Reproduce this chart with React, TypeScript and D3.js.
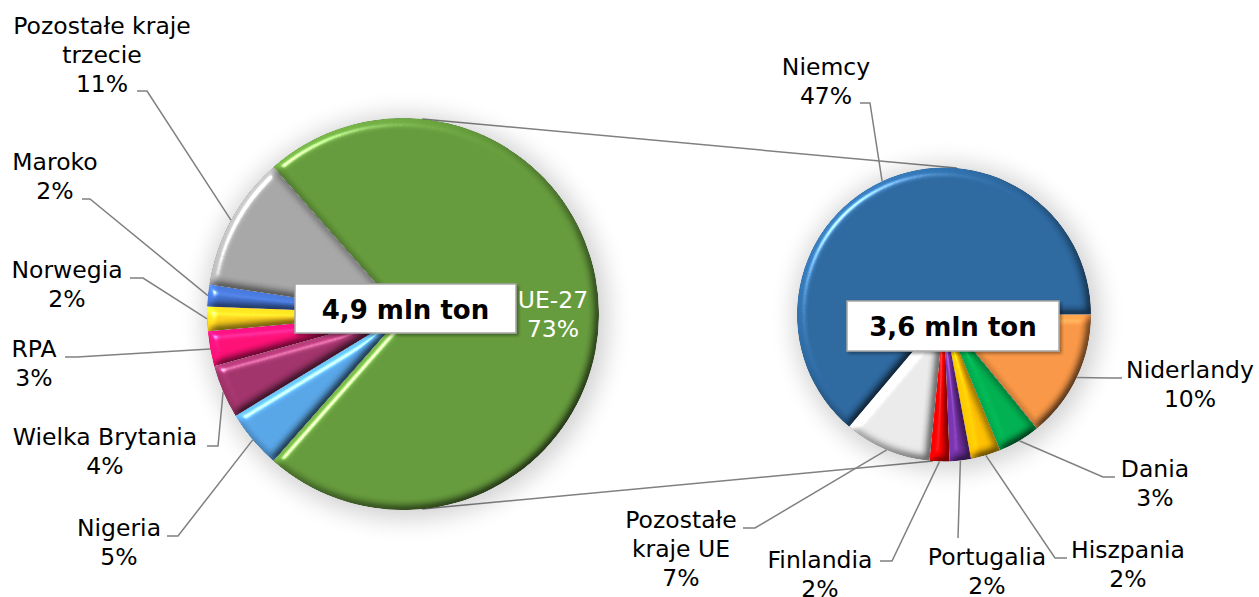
import React from "react";
import * as d3 from "d3";

// ---- data ----
const primaryCategories = ["UE-27", "Nigeria", "Wielka Brytania", "RPA", "Norwegia", "Maroko", "Pozostałe kraje\ntrzecie"];
const primaryValues = [73.0, 4.8, 4.4, 2.9, 2.0, 1.8, 11.1];
const primaryColors = ["#659a3c", "#58a5e6", "#a0336a", "#ff1076", "#ffd21f", "#4574d2", "#a6a6a6"];

const secondaryCategories = ["Niderlandy", "Dania", "Hiszpania", "Portugalia", "Finlandia", "Pozostałe\nkraje UE", "Niemcy"];
const secondaryValues = [10.3, 3.4, 2.4, 1.7, 1.6, 7.0, 46.6];
const secondaryColors = ["#f79646", "#00b050", "#ffc000", "#7030a0", "#ff0000", "#e9e9e9", "#2d689f"];

const primaryTotal = "4,9 mln ton";
const secondaryTotal = "3,6 mln ton";

// ---- layout ----
const W = 1259, H = 597;
const P = { cx: 403, cy: 314, r: 196 };
const S = { cx: 944, cy: 314.5, r: 147 };
const FONT = "'DejaVu Sans', Verdana, sans-serif";
const FS = 23.5;

// label layout: center x, first baseline, leader end (near label), elbow
type LabelPos = { x: number; y: number; end?: [number, number]; elbow?: [number, number] };
const primaryLabelPos: LabelPos[] = [
  { x: 553, y: 308 },
  { x: 119, y: 536, end: [167, 536], elbow: [178, 536] },
  { x: 105, y: 445, end: [207, 446], elbow: [218, 446] },
  { x: 34, y: 357, end: [65, 357], elbow: [77, 357] },
  { x: 67, y: 278, end: [130, 278], elbow: [143, 278] },
  { x: 55, y: 170, end: [82, 199], elbow: [90, 199] },
  { x: 102, y: 34, end: [137, 91], elbow: [147, 91] },
];
const secondaryLabelPos: LabelPos[] = [
  { x: 1190, y: 378, end: [1122, 378], elbow: [1110, 378] },
  { x: 1155, y: 477, end: [1115, 477], elbow: [1103, 477] },
  { x: 1128, y: 558, end: [1067, 558], elbow: [1055, 558] },
  { x: 987, y: 565, end: [958, 538], elbow: [958, 538] },
  { x: 820, y: 568, end: [880, 561], elbow: [892, 561] },
  { x: 681, y: 528, end: [743, 528], elbow: [755, 528] },
  { x: 826, y: 75, end: [860, 103], elbow: [870, 103] },
];

const LH = 29;
const deg = Math.PI / 180;

function polar(c: { cx: number; cy: number }, r: number, a: number): [number, number] {
  return [c.cx + r * Math.sin(a), c.cy - r * Math.cos(a)];
}

export default function App() {
  const pTotal = d3.sum(primaryValues);
  const pStart = Math.PI / 2 - (primaryValues[0] / pTotal) * Math.PI;
  const pie1 = d3.pie<number>().sort(null).startAngle(pStart).endAngle(pStart + 2 * Math.PI)(primaryValues);
  const pie2 = d3.pie<number>().sort(null).startAngle(Math.PI / 2).endAngle(Math.PI / 2 + 2 * Math.PI)(secondaryValues);
  const arc1 = d3.arc<d3.PieArcDatum<number>>().innerRadius(0).outerRadius(P.r);
  const arc2 = d3.arc<d3.PieArcDatum<number>>().innerRadius(0).outerRadius(S.r);
  const pct = (v: number) => `${Math.round(v)}%`;

  const topA = polar(P, P.r, 5.6 * deg), topB = polar(S, S.r, 5 * deg);
  const botA = polar(P, P.r, 174.4 * deg), botB = polar(S, S.r, 184.3 * deg);

  const leader = (c: typeof P, a: number, lp: LabelPos) => {
    const pt = polar(c, c.r, a);
    const pts = [pt, lp.elbow!, lp.end!];
    return d3.line()(pts as [number, number][]) || "";
  };

  const renderLabel = (text: string, lp: LabelPos, color: string, key: string) => {
    const lines = text.split("\n");
    return (
      <text key={key} x={lp.x} y={lp.y} textAnchor="middle" fontFamily={FONT} fontSize={FS} fill={color}>
        {lines.map((l, i) => (
          <tspan key={i} x={lp.x} y={lp.y + i * LH}>{l}</tspan>
        ))}
      </text>
    );
  };

  return (
    <svg width={W} height={H} style={{ position: "fixed", left: 0, top: 0, background: "#fff" }}>
      <defs>
        <filter id="shadow" x="-30%" y="-30%" width="160%" height="160%">
          <feGaussianBlur stdDeviation="12" />
        </filter>
        <filter id="bevel" x="-10%" y="-10%" width="120%" height="120%" colorInterpolationFilters="sRGB">
          <feGaussianBlur in="SourceAlpha" stdDeviation="4.5" result="blur" />
          <feDiffuseLighting in="blur" surfaceScale="4" diffuseConstant="1" lightingColor="#ffffff" result="diff">
            <feDistantLight azimuth="225" elevation="55" />
          </feDiffuseLighting>
          <feComposite in="SourceGraphic" in2="diff" operator="arithmetic" k1="1.2208" k2="0" k3="0" k4="0" result="lit" />
          <feSpecularLighting in="blur" surfaceScale="4" specularConstant="1" specularExponent="90" lightingColor="#ffffff" result="spec">
            <feDistantLight azimuth="225" elevation="55" />
          </feSpecularLighting>
          <feComposite in="spec" in2="SourceAlpha" operator="in" result="specIn" />
          <feComposite in="lit" in2="specIn" operator="arithmetic" k1="0" k2="1" k3="0.6" k4="0" result="all" />
          <feComposite in="all" in2="SourceAlpha" operator="in" />
        </filter>
        <filter id="boxShadow" x="-10%" y="-20%" width="120%" height="150%">
          <feDropShadow dx="2" dy="2" stdDeviation="1.5" floodColor="#000" floodOpacity="0.35" />
        </filter>
      </defs>

      {/* connector lines */}
      <line x1={topA[0]} y1={topA[1]} x2={topB[0]} y2={topB[1]} stroke="#808080" strokeWidth={1.5} />
      <line x1={botA[0]} y1={botA[1]} x2={botB[0]} y2={botB[1]} stroke="#808080" strokeWidth={1.5} />

      {/* shadows */}
      <circle cx={P.cx + 3} cy={P.cy + 3} r={P.r + 6} fill="#000" opacity={0.18} filter="url(#shadow)" />
      <circle cx={S.cx + 3} cy={S.cy + 3} r={S.r + 6} fill="#000" opacity={0.18} filter="url(#shadow)" />

      {/* primary pie */}
      <g transform={`translate(${P.cx},${P.cy})`}>
        {pie1.map((d, i) => (
          <path key={i} d={arc1(d) || ""} fill={primaryColors[i]} filter="url(#bevel)" />
        ))}
      </g>
      {/* secondary pie */}
      <g transform={`translate(${S.cx},${S.cy})`}>
        {pie2.map((d, i) => (
          <path key={i} d={arc2(d) || ""} fill={secondaryColors[i]} filter="url(#bevel)" />
        ))}
      </g>

      {/* leader lines */}
      {pie1.map((d, i) =>
        primaryLabelPos[i].end ? (
          <path key={"l1" + i} d={leader(P, (d.startAngle + d.endAngle) / 2, primaryLabelPos[i])} fill="none" stroke="#808080" strokeWidth={1.5} />
        ) : null
      )}
      {pie2.map((d, i) => (
        <path key={"l2" + i} d={leader(S, (d.startAngle + d.endAngle) / 2, secondaryLabelPos[i])} fill="none" stroke="#808080" strokeWidth={1.5} />
      ))}

      {/* labels */}
      {pie1.map((d, i) =>
        renderLabel(`${primaryCategories[i]}\n${pct(primaryValues[i])}`, primaryLabelPos[i], i === 0 ? "#ffffff" : "#000000", "t1" + i)
      )}
      {pie2.map((d, i) =>
        renderLabel(`${secondaryCategories[i]}\n${pct(secondaryValues[i])}`, secondaryLabelPos[i], "#000000", "t2" + i)
      )}

      {/* totals boxes */}
      <g filter="url(#boxShadow)">
        <rect x={295} y={284} width={221} height={49} fill="#ffffff" stroke="#a6a6a6" strokeWidth={1.5} />
      </g>
      <text x={405.5} y={319} textAnchor="middle" fontFamily={FONT} fontSize={26} fontWeight="bold" fill="#000">{primaryTotal}</text>
      <g filter="url(#boxShadow)">
        <rect x={847} y={301} width={212} height={50} fill="#ffffff" stroke="#a6a6a6" strokeWidth={1.5} />
      </g>
      <text x={953} y={336} textAnchor="middle" fontFamily={FONT} fontSize={26} fontWeight="bold" fill="#000">{secondaryTotal}</text>
    </svg>
  );
}
